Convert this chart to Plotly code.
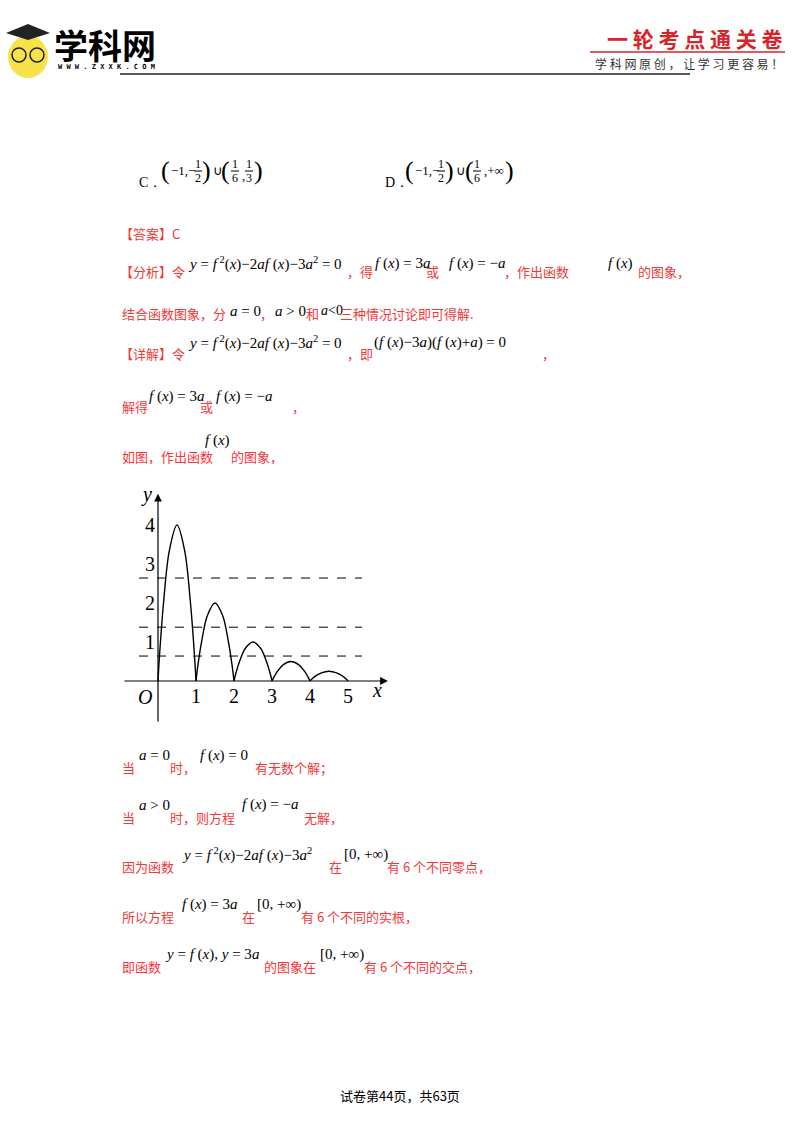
import plotly.graph_objects as go

W, H = 800, 1132

# curve, one arch per unit interval
arch_x = [
    [0, 0.05, 0.15, 0.3, 0.5, 0.7, 0.85, 0.95, 1],
    [1, 1.05, 1.15, 1.3, 1.5, 1.7, 1.85, 1.95, 2],
    [2, 2.05, 2.15, 2.3, 2.5, 2.7, 2.85, 2.95, 3],
    [3, 3.05, 3.15, 3.3, 3.5, 3.7, 3.85, 3.95, 4],
    [4, 4.05, 4.15, 4.3, 4.5, 4.7, 4.85, 4.95, 5],
]
arch_y = [
    [0, 0.8, 2.05, 3.35, 4, 3.35, 2.05, 0.8, 0],
    [0, 0.4, 1.02, 1.68, 2, 1.68, 1.02, 0.4, 0],
    [0, 0.2, 0.51, 0.84, 1, 0.84, 0.51, 0.2, 0],
    [0, 0.1, 0.26, 0.42, 0.5, 0.42, 0.26, 0.1, 0],
    [0, 0.05, 0.13, 0.21, 0.25, 0.21, 0.13, 0.05, 0],
]
dash_levels = [2.64, 1.38, 0.64]
dash_x = [-0.5, 5.37]
x_ticks = [1, 2, 3, 4, 5]
y_ticks = [1, 2, 3, 4]

RED = "#f2383a"
CJK = "Noto Sans CJK SC"
SERIF = "Liberation Serif"

fig = go.Figure()

for xs, ys in zip(arch_x, arch_y):
    fig.add_trace(go.Scatter(x=xs, y=ys, mode="lines", line=dict(color="black", width=1.4, shape="spline"),
                             showlegend=False, hoverinfo="skip"))
for lv in dash_levels:
    fig.add_trace(go.Scatter(x=dash_x, y=[lv, lv], mode="lines", line=dict(color="black", width=1, dash="dash"),
                             showlegend=False, hoverinfo="skip"))

ann = []
shapes = []

# chart axes with arrows
ann.append(dict(x=6.05, y=0, ax=-0.92, ay=0, xref="x", yref="y", axref="x", ayref="y", text="",
                showarrow=True, arrowhead=2, arrowsize=1.3, arrowwidth=1.2, arrowcolor="black"))
ann.append(dict(x=0, y=4.8, ax=0, ay=-1.08, xref="x", yref="y", axref="x", ayref="y", text="",
                showarrow=True, arrowhead=2, arrowsize=1.3, arrowwidth=1.2, arrowcolor="black"))
for t in x_ticks:
    ann.append(dict(x=t, y=-0.38, xref="x", yref="y", text=str(t), showarrow=False,
                    font=dict(family=SERIF, size=20, color="black")))
for t in y_ticks:
    ann.append(dict(x=-0.22, y=t, xref="x", yref="y", text=str(t), showarrow=False,
                    font=dict(family=SERIF, size=20, color="black")))
ann.append(dict(x=-0.33, y=-0.4, xref="x", yref="y", text="<i>O</i>", showarrow=False,
                font=dict(family=SERIF, size=20, color="black")))
ann.append(dict(x=-0.3, y=4.78, xref="x", yref="y", text="<i>y</i>", showarrow=False,
                font=dict(family=SERIF, size=20, color="black")))
ann.append(dict(x=5.75, y=-0.22, xref="x", yref="y", text="<i>x</i>", showarrow=False,
                font=dict(family=SERIF, size=20, color="black")))


def put(px, py, text, color=RED, family=CJK, size=13, anchor="left"):
    ann.append(dict(x=px / W, y=1 - py / H, xref="paper", yref="paper", text=text, showarrow=False,
                    xanchor=anchor, yanchor="middle", font=dict(family=family, size=size, color=color)))


def red(px, py, text):
    put(px, py, text)


def math(px, py, text, size=15):
    put(px, py, text, color="black", family=SERIF, size=size)


def frac(cx, py, num, den):
    put(cx, py - 7, num, color="black", family=SERIF, size=12, anchor="center")
    put(cx, py + 7, den, color="black", family=SERIF, size=12, anchor="center")
    shapes.append(dict(type="line", xref="paper", yref="paper", x0=(cx - 4) / W, x1=(cx + 4) / W,
                       y0=1 - py / H, y1=1 - py / H, line=dict(color="black", width=1)))


def paren(px, py, ch):
    put(px, py, ch, color="black", family=SERIF, size=26, anchor="center")


FX = "<i>f</i> (<i>x</i>)"
EQ = "<i>y</i> = <i>f</i><sup> 2</sup>(<i>x</i>)−2<i>af</i> (<i>x</i>)−3<i>a</i><sup>2</sup>"

# options C / D
py = 171
put(137, 182, "C．", color="black", family=SERIF, size=14)
paren(165, py, "(")
math(169, py, "−1,−", 13)
frac(198, py, "1", "2")
paren(206, py, ")")
math(211, py, "∪", 13)
paren(226, py, "(")
frac(235, py, "1", "6")
math(240, py + 4, ",", 13)
frac(249, py, "1", "3")
paren(258, py, ")")

put(383, 182, "D．", color="black", family=SERIF, size=14)
paren(409, py, "(")
math(413, py, "−1,−", 13)
frac(441, py, "1", "2")
paren(449, py, ")")
math(454, py, "∪", 13)
paren(469, py, "(")
frac(477, py, "1", "6")
math(482, py, ",+∞", 13)
paren(510, py, ")")

red(118, 233, "【答案】C")

y = 272
red(118, y, "【分析】令")
math(186, y - 9, EQ + " = 0")
red(345, y, "，得")
math(373, y - 9, FX + " = 3<i>a</i>")
red(424, y, "或")
math(447, y - 9, FX + " = −<i>a</i>")
red(502, y, "，作出函数")
math(606, y - 9, FX)
red(636, y, "的图象，")

y = 314
red(120, y, "结合函数图象，分")
math(228, y - 3, "<i>a</i> = 0")
red(258, y, "，")
math(273, y - 3, "<i>a</i> > 0")
red(304, y, "和")
math(319, y - 3, "<i>a</i><0", 14)
red(338, y, "三种情况讨论即可得解.")

y = 353
red(118, y, "【详解】令")
math(186, y - 10, EQ + " = 0")
red(345, y, "，即")
math(372, y - 10, "(" + FX + "−3<i>a</i>)(" + FX + "+<i>a</i>) = 0")
red(540, y, "，")

y = 406
red(120, y, "解得")
math(147, y - 10, FX + " = 3<i>a</i>")
red(198, y, "或")
math(214, y - 10, FX + " = −<i>a</i>")
red(290, y, "，")

y = 456
red(120, y, "如图，作出函数")
math(203, y - 16, FX)
red(229, y, "的图象，")

y = 767
red(120, y, "当")
math(137, y - 12, "<i>a</i> = 0")
red(168, y, "时，")
math(198, y - 12, FX + " = 0")
red(253, y, "有无数个解；")

y = 817
red(120, y, "当")
math(137, y - 12, "<i>a</i> > 0")
red(168, y, "时，则方程")
math(240, y - 12, FX + " = −<i>a</i>")
red(302, y, "无解，")

y = 866
red(120, y, "因为函数")
math(180, y - 12, EQ)
red(327, y, "在")
math(342, y - 12, "[0, +∞)")
red(385, y, "有 6 个不同零点，")

y = 916
red(120, y, "所以方程")
math(180, y - 12, FX + " = 3<i>a</i>")
red(240, y, "在")
math(255, y - 12, "[0, +∞)")
red(299, y, "有 6 个不同的实根，")

y = 966
red(120, y, "即函数")
math(163, y - 12, "<i>y</i> = " + FX + ", <i>y</i> = 3<i>a</i>")
red(262, y, "的图象在")
math(318, y - 12, "[0, +∞)")
red(362, y, "有 6 个不同的交点，")

put(400, 1095, "试卷第44页，共63页", color="black", family=CJK, size=13, anchor="center")

# header
put(52, 44, "<b>学科网</b>", color="black", family=CJK, size=34)
put(56, 67, "<b>W W W . Z X X K . C O M</b>", color="black", family="DejaVu Sans Mono", size=7)
put(785, 38, "<b>一 轮 考 点 通 关 卷</b>", color="#d8232a", family=CJK, size=21, anchor="right")
put(785, 64, "学 科 网 原 创 ， 让 学 习 更 容 易 ！", color="#333333", family=CJK, size=12, anchor="right")
shapes.append(dict(type="line", xref="paper", yref="paper", x0=590 / W, x1=785 / W,
                   y0=1 - 52 / H, y1=1 - 52 / H, line=dict(color="#d8232a", width=1.5)))
shapes.append(dict(type="line", xref="paper", yref="paper", x0=120 / W, x1=690 / W,
                   y0=1 - 74 / H, y1=1 - 74 / H, line=dict(color="#222222", width=1.5)))
# logo face
shapes.append(dict(type="circle", xref="paper", yref="paper", x0=8 / W, x1=48 / W,
                   y0=1 - 78 / H, y1=1 - 36 / H, fillcolor="#f7e24a", line=dict(width=0)))
shapes.append(dict(type="path", xref="paper", yref="paper",
                   path=f"M {6/W} {1-33/H} L {28/W} {1-24/H} L {50/W} {1-33/H} L {28/W} {1-40/H} Z",
                   fillcolor="#222222", line=dict(width=0)))
for cx in (19, 37):
    shapes.append(dict(type="circle", xref="paper", yref="paper", x0=(cx - 7) / W, x1=(cx + 7) / W,
                       y0=1 - 62 / H, y1=1 - 48 / H, line=dict(color="#222222", width=1.5)))

fig.update_layout(
    width=W, height=H, margin=dict(l=0, r=0, t=0, b=0),
    paper_bgcolor="white", plot_bgcolor="white",
    xaxis=dict(range=[-1, 6.2], domain=[120 / W, 393.6 / W], visible=False, fixedrange=True),
    yaxis=dict(range=[-1.2, 4.9], domain=[(H - 727.8) / H, (H - 489.9) / H], visible=False, fixedrange=True),
    annotations=ann, shapes=shapes,
)

fig.write_html("out.html", config={"displayModeBar": False},
               post_script="document.body.style.margin='0';")
